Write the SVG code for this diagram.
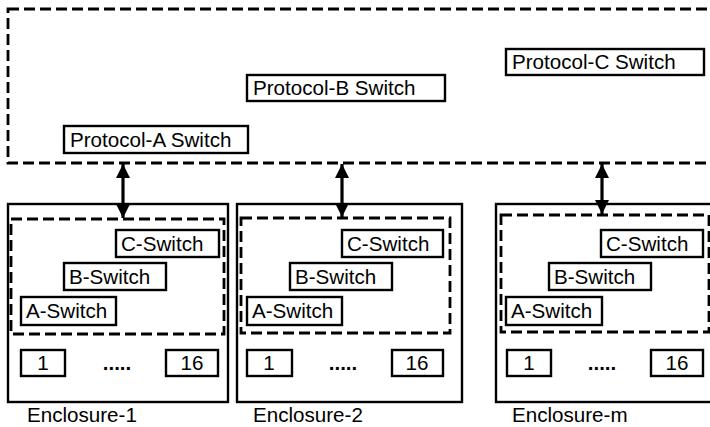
<svg xmlns="http://www.w3.org/2000/svg" width="710" height="427" viewBox="0 0 710 427">
<defs>
<style>
.t{font-family:"Liberation Sans",Arial,sans-serif;font-size:20.6px;fill:#000}
.b{fill:#fff;stroke:#000;stroke-width:2.4}
.o{fill:none;stroke:#000;stroke-width:2.4}
.d{fill:none;stroke:#000;stroke-width:2.8;stroke-dasharray:11 5}
.a{stroke:#000;stroke-width:3.2;fill:none}
</style>
<marker id="ah" viewBox="0 0 10 10" refX="10" refY="5" markerWidth="15" markerHeight="14" markerUnits="userSpaceOnUse" orient="auto-start-reverse">
<path d="M0,0 L10,5 L0,10 z" fill="#000"/>
</marker>
</defs>
<rect width="710" height="427" fill="#fff"/>
<g id="protocol-domain">
<rect class="d" x="8" y="9" width="712" height="154"/>
</g>
<g id="protocol-a"><rect class="b" x="64" y="126" width="184" height="27"/><text class="t" x="70" y="147">Protocol-A Switch</text></g>
<g id="protocol-b"><rect class="b" x="247" y="75" width="198" height="26"/><text class="t" x="253" y="95">Protocol-B Switch</text></g>
<g id="protocol-c"><rect class="b" x="506" y="49" width="198" height="26"/><text class="t" x="512" y="69">Protocol-C Switch</text></g>

<g id="enclosure-1">
<rect class="o" x="8" y="204" width="220" height="198"/>
<rect class="d" x="11" y="219" width="213" height="115"/>
<rect class="b" x="116" y="230" width="103" height="27"/><text class="t" x="121" y="251">C-Switch</text>
<rect class="b" x="64" y="263" width="102" height="27"/><text class="t" x="69" y="284">B-Switch</text>
<rect class="b" x="21" y="297" width="95" height="28"/><text class="t" x="26" y="318">A-Switch</text>
<rect class="b" x="21" y="350" width="44" height="26"/><text class="t" x="43" y="370" text-anchor="middle">1</text>
<text class="t" x="117" y="370" text-anchor="middle" font-weight="bold">.....</text>
<rect class="b" x="166" y="350" width="52" height="26"/><text class="t" x="192" y="370" text-anchor="middle">16</text>
<text class="t" x="27" y="422">Enclosure-1</text>
</g>

<g id="enclosure-2">
<rect class="o" x="237" y="204" width="225" height="198"/>
<rect class="d" x="241" y="218" width="209" height="115"/>
<rect class="b" x="342" y="230" width="101" height="27"/><text class="t" x="347" y="251">C-Switch</text>
<rect class="b" x="290" y="263" width="102" height="27"/><text class="t" x="295" y="284">B-Switch</text>
<rect class="b" x="247" y="297" width="95" height="28"/><text class="t" x="252" y="318">A-Switch</text>
<rect class="b" x="247" y="350" width="45" height="26"/><text class="t" x="269" y="370" text-anchor="middle">1</text>
<text class="t" x="343" y="370" text-anchor="middle" font-weight="bold">.....</text>
<rect class="b" x="392" y="350" width="51" height="26"/><text class="t" x="417" y="370" text-anchor="middle">16</text>
<text class="t" x="253" y="422">Enclosure-2</text>
</g>

<g id="enclosure-m">
<rect class="o" x="496" y="204" width="224" height="198"/>
<rect class="d" x="501" y="215" width="208" height="117"/>
<rect class="b" x="601" y="230" width="102" height="27"/><text class="t" x="606" y="251">C-Switch</text>
<rect class="b" x="549" y="263" width="102" height="27"/><text class="t" x="554" y="284">B-Switch</text>
<rect class="b" x="506" y="297" width="96" height="28"/><text class="t" x="511" y="318">A-Switch</text>
<rect class="b" x="507" y="350" width="44" height="26"/><text class="t" x="529" y="370" text-anchor="middle">1</text>
<text class="t" x="602" y="370" text-anchor="middle" font-weight="bold">.....</text>
<rect class="b" x="651" y="350" width="52" height="26"/><text class="t" x="677" y="370" text-anchor="middle">16</text>
<text class="t" x="512" y="422">Enclosure-m</text>
</g>

<g id="connectors">
<line class="a" x1="123" y1="164" x2="123" y2="218" marker-start="url(#ah)" marker-end="url(#ah)"/>
<line class="a" x1="342" y1="164" x2="342" y2="217" marker-start="url(#ah)" marker-end="url(#ah)"/>
<line class="a" x1="602" y1="164" x2="602" y2="214" marker-start="url(#ah)" marker-end="url(#ah)"/>
</g>
</svg>
